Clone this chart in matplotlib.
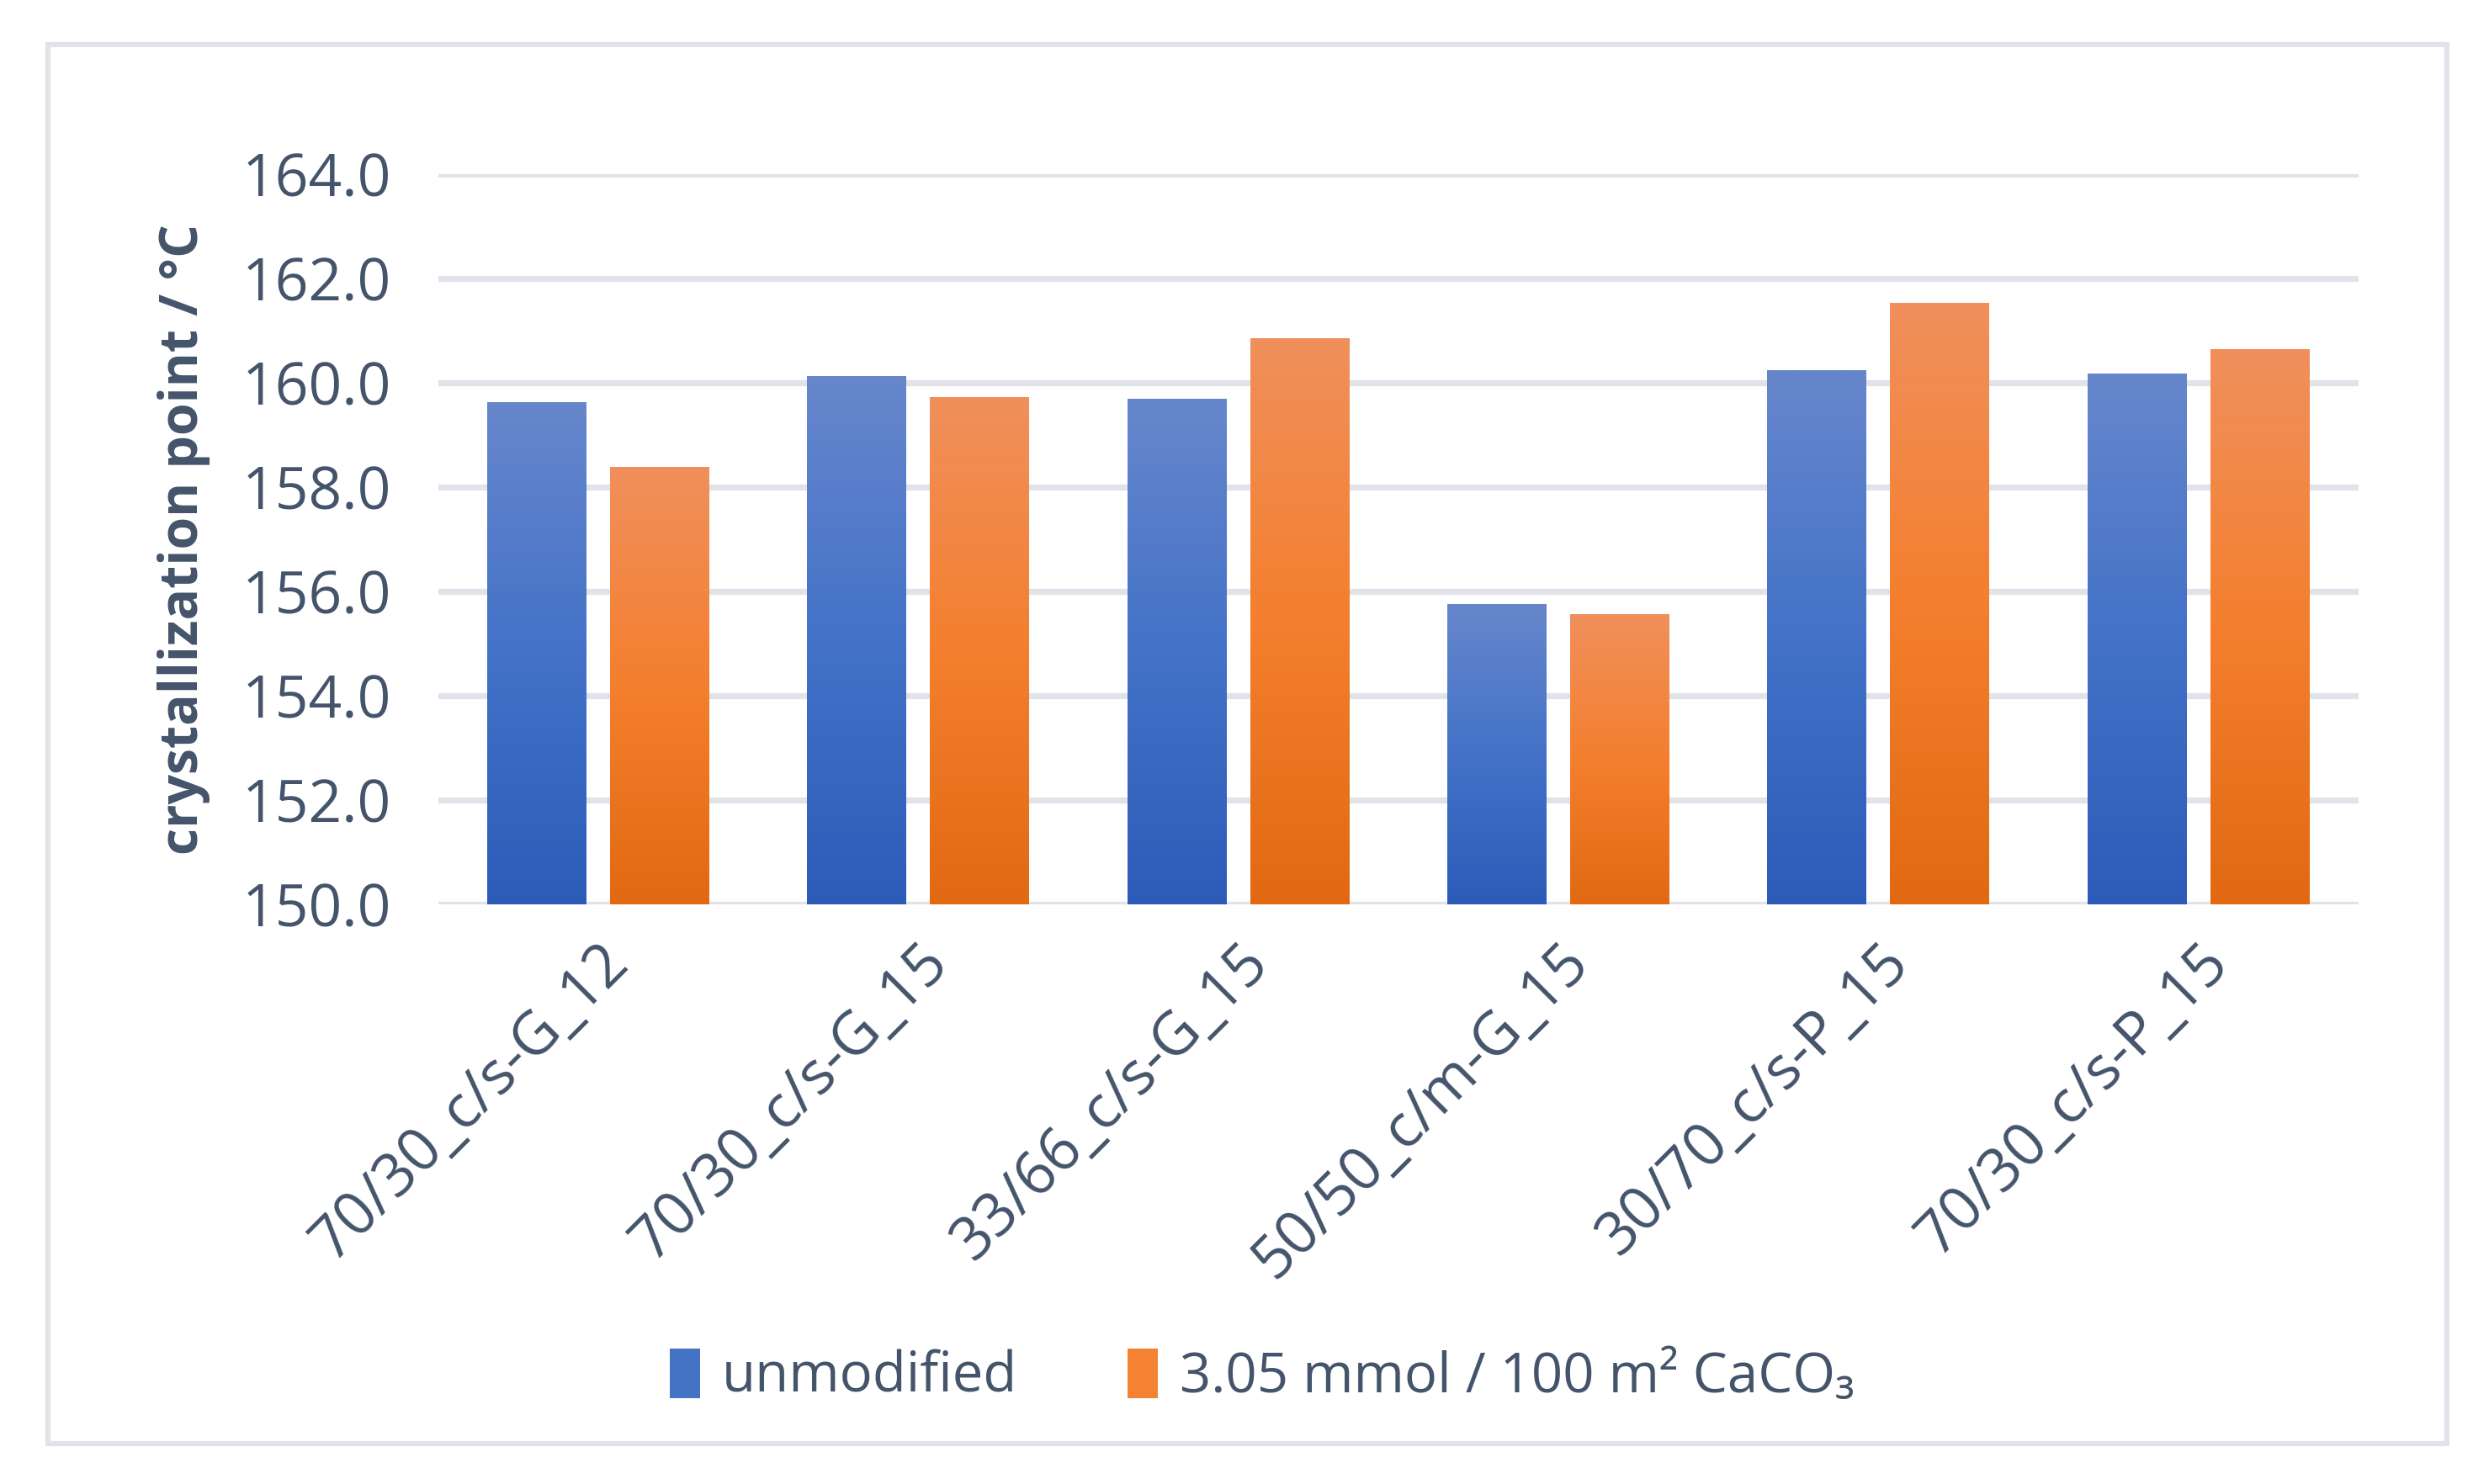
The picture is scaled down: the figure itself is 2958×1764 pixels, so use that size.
import numpy as np
import matplotlib.pyplot as plt
from matplotlib.colors import LinearSegmentedColormap
from matplotlib.patches import Rectangle

plt.rcParams['font.family'] = ['Open Sans', 'DejaVu Sans']

categories = ['70/30_c/s-G_12', '70/30_c/s-G_15', '33/66_c/s-G_15',
              '50/50_c/m-G_15', '30/70_c/s-P_15', '70/30_c/s-P_15']
unmodified = [159.63, 160.12, 159.69, 155.75, 160.24, 160.18]
modified = [158.38, 159.72, 160.85, 155.56, 161.53, 160.64]
series_labels = ['unmodified', '3.05 mmol / 100 m² CaCO₃']

text_color = '#44546A'
grid_color = '#E0E3EA'

# gradients (bottom -> top)
blue_cmap = LinearSegmentedColormap.from_list('b', ['#2C5CB8', '#4372C8', '#6787CC'])
orange_cmap = LinearSegmentedColormap.from_list('o', ['#E26912', '#F47F2E', '#F0905C'])

fig = plt.figure(figsize=(14.79, 8.82), dpi=200)
ax = fig.add_axes([0.176, 0.3906, 0.7715, 0.4921])

# outer chart frame
fig.patches.append(Rectangle((0.0193, 0.027), 0.9637, 0.943, transform=fig.transFigure,
                             fill=False, edgecolor=grid_color, linewidth=2.2))

x = np.arange(len(categories))
w = 0.31
off = 0.192
ymin = 150.0

grad = np.linspace(0, 1, 256).reshape(-1, 1)


def gradient_bars(xpos, vals, cmap, color):
    bars = ax.bar(xpos, np.array(vals) - ymin, w, bottom=ymin, color=color, zorder=2)
    for b in bars:
        x0, y0 = b.get_x(), b.get_y()
        im = ax.imshow(grad, cmap=cmap, aspect='auto', origin='lower',
                       extent=(x0, x0 + b.get_width(), y0, y0 + b.get_height()), zorder=3)
        im.set_clip_path(b)
    return bars


b1 = gradient_bars(x - off, unmodified, blue_cmap, '#4472C4')
b2 = gradient_bars(x + off, modified, orange_cmap, '#F58232')

ax.set_xlim(-0.5, len(categories) - 0.5)
ax.set_ylim(ymin, 164.0)
ax.set_yticks(np.arange(150, 164.1, 2))
ax.set_yticklabels([f'{v:.1f}' for v in np.arange(150, 164.1, 2)])
ax.yaxis.grid(True, color=grid_color, linewidth=2.6, zorder=0)
ax.set_axisbelow(True)
for s in ax.spines.values():
    s.set_visible(False)
ax.tick_params(axis='both', length=0, colors=text_color)
ax.tick_params(axis='y', pad=20, labelsize=25)
ax.set_xticks(x)
ax.set_xticklabels(categories, rotation=45, ha='right', va='top', rotation_mode='anchor')
ax.tick_params(axis='x', pad=12, labelsize=25.5)

fig.text(0.0737, 0.6366, 'crystallization point / °C', rotation=90, ha='center', va='center',
         fontsize=22.5, fontweight='bold', color=text_color)

leg = fig.legend([b1[0], b2[0]], series_labels, loc='center', bbox_to_anchor=(0.507, 0.072),
                 ncol=2, frameon=False, fontsize=23.5, labelcolor=text_color,
                 handlelength=0.55, handleheight=1.0, handletextpad=0.4, columnspacing=2.0)

fig.savefig('out.png', dpi=200, facecolor='white')
